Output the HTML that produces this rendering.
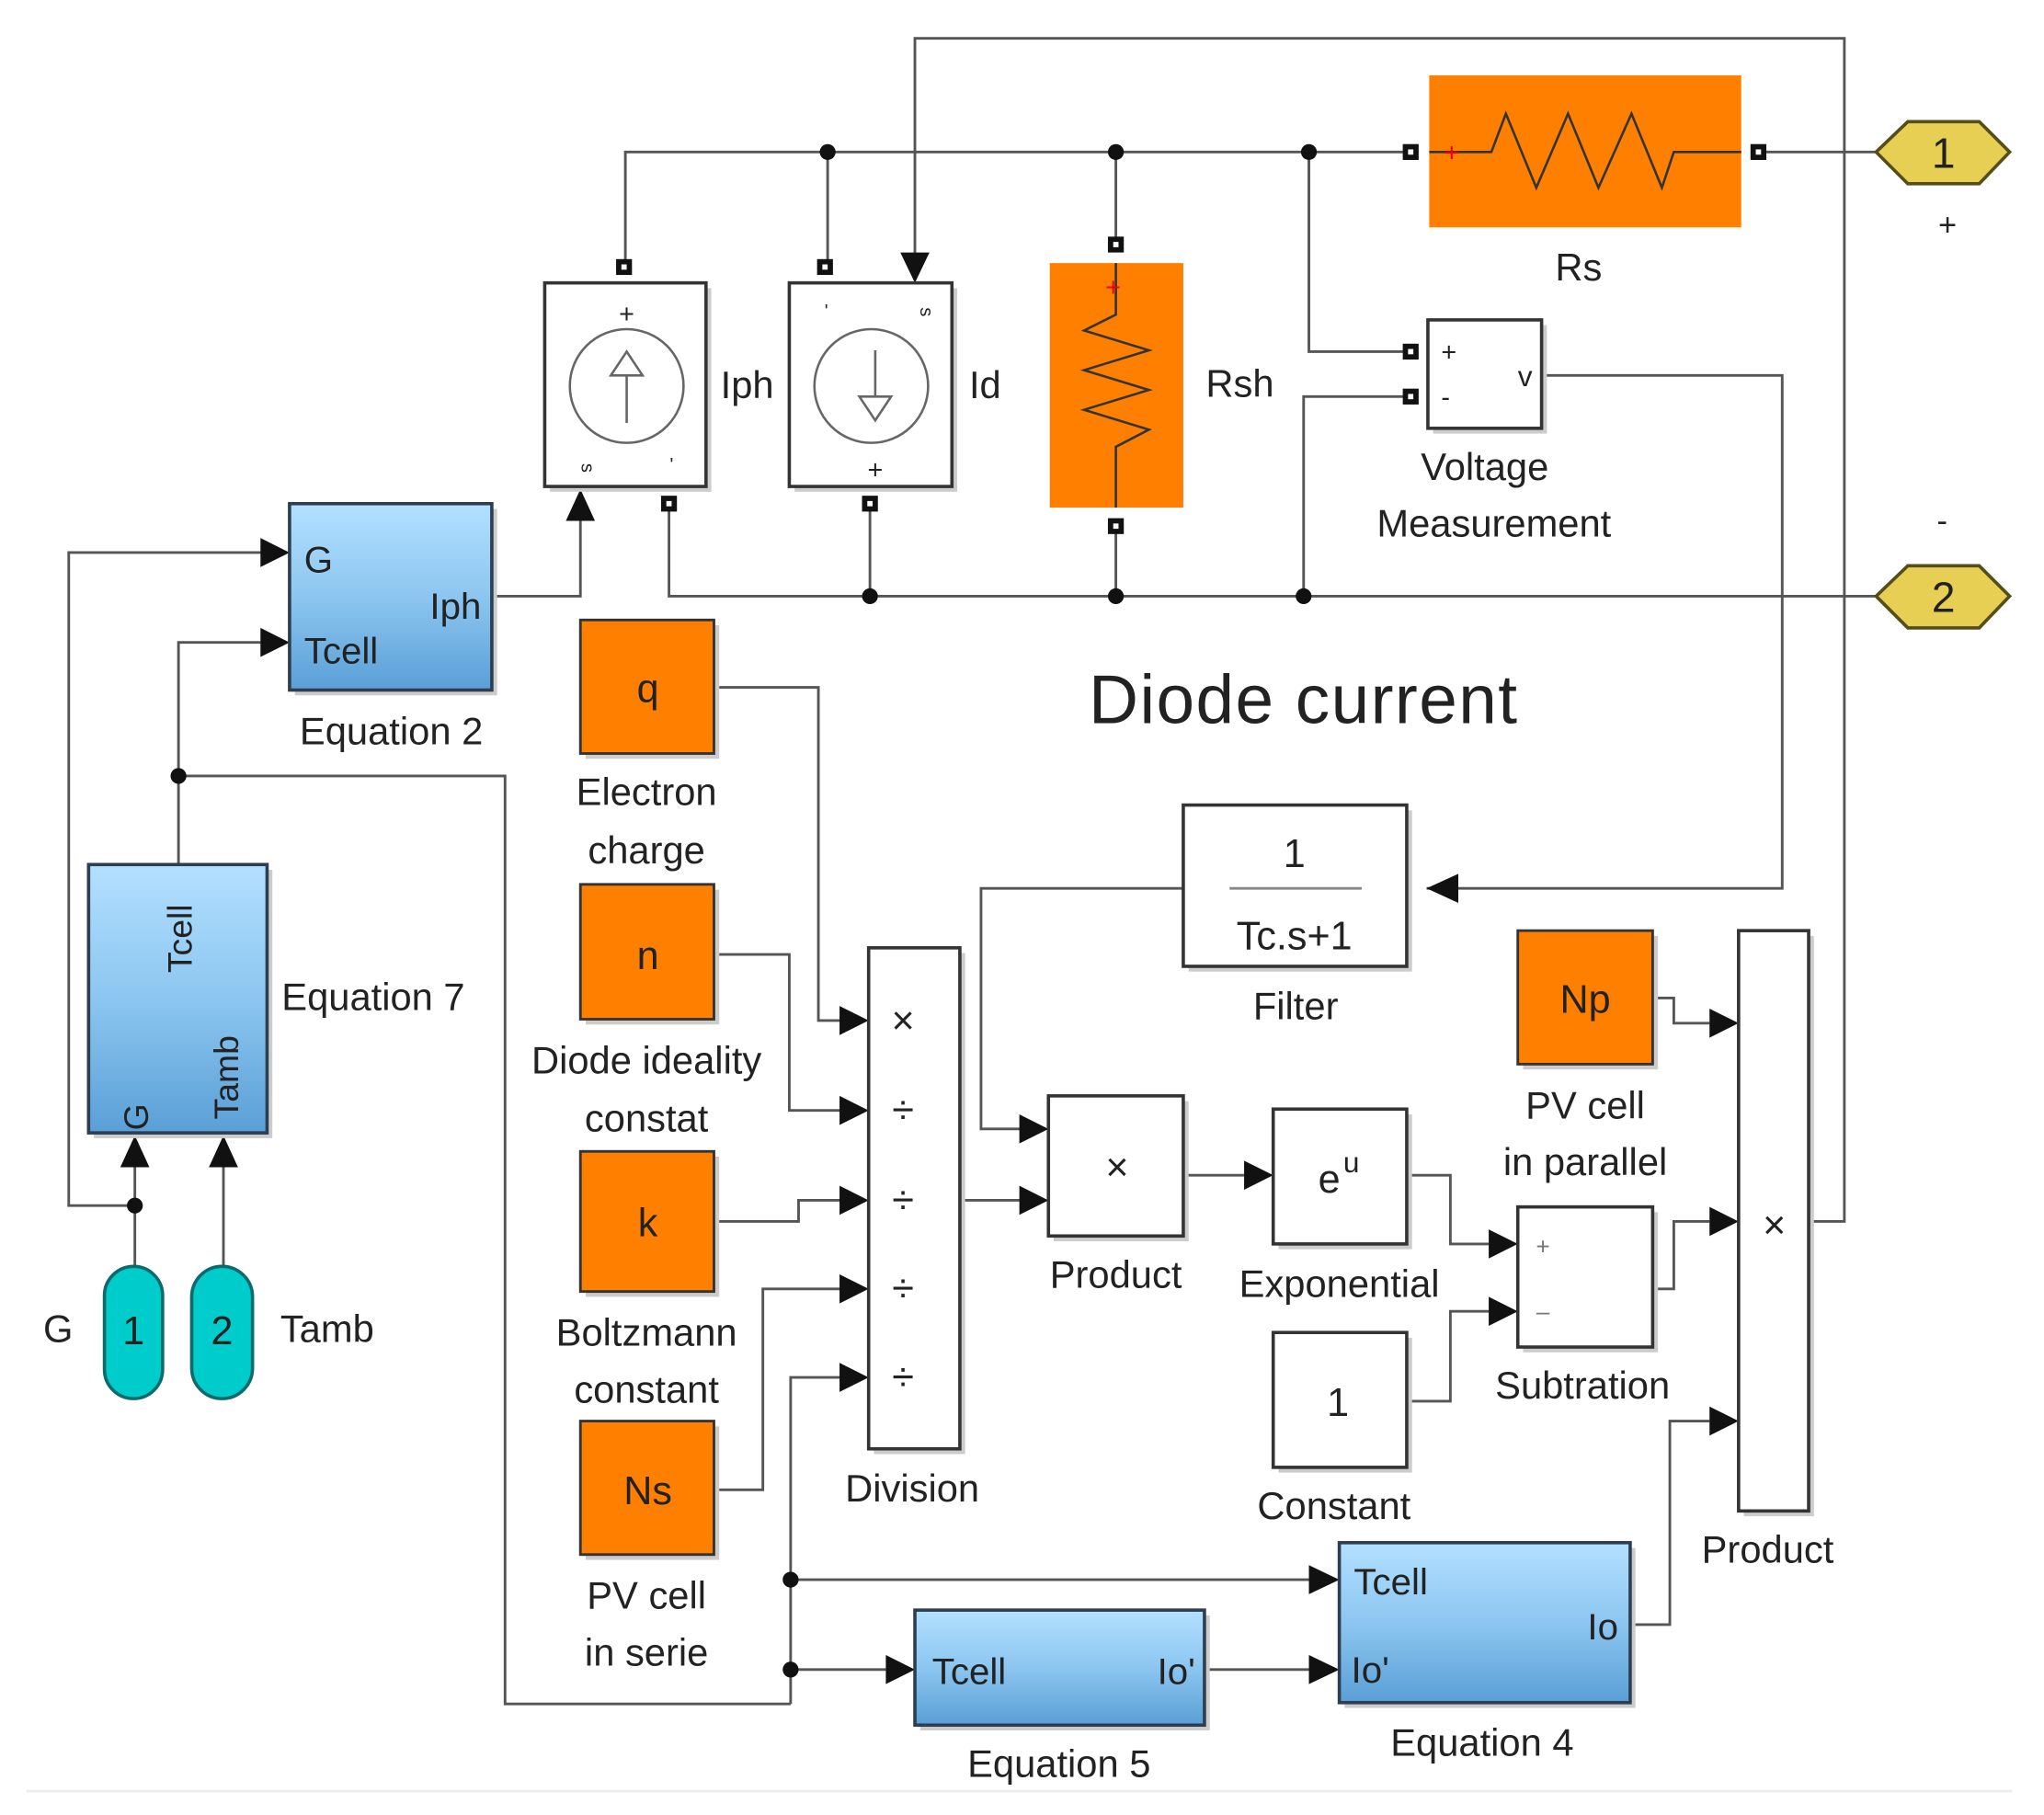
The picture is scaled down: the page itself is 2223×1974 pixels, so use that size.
<!DOCTYPE html>
<html><head><meta charset="utf-8"><style>
html,body{margin:0;padding:0;background:#fff}
svg{display:block}
text{font-family:"Liberation Sans",sans-serif;fill:#222}
</style></head><body>
<svg width="2223" height="1974" viewBox="0 0 1546 1373" preserveAspectRatio="none" xmlns="http://www.w3.org/2000/svg">
<defs>
<linearGradient id="bl" x1="0" y1="0" x2="0" y2="1"><stop offset="0" stop-color="#b3e0ff"/><stop offset="0.5" stop-color="#8cc6f0"/><stop offset="1" stop-color="#5a9fd6"/></linearGradient>
</defs>
<rect width="1546" height="1373" fill="#fff"/>
<line x1="20" y1="1355" x2="1522" y2="1355" stroke="#eee" stroke-width="2"/>

<g fill="none" stroke="#555" stroke-width="2">
<polyline points="692,212 692,29 1395,29 1395,924 1368,924"/>
<polyline points="473,202 473,115 1067,115"/>
<line x1="1330" y1="115" x2="1419" y2="115"/>
<line x1="626" y1="115" x2="626" y2="202"/>
<line x1="844" y1="115" x2="844" y2="185"/>
<polyline points="990,115 990,266 1067,266"/>
<polyline points="506,381 506,451 1419,451"/>
<line x1="658" y1="381" x2="658" y2="451"/>
<line x1="844" y1="398" x2="844" y2="451"/>
<polyline points="1067,300 986,300 986,451"/>
<polyline points="1166,284 1348,284 1348,672 1079,672"/>
<polyline points="372,451 439,451 439,392"/>
<polyline points="102,912 52,912 52,418 200,418"/>
<polyline points="135,654 135,486 200,486"/>
<polyline points="135,587 382,587 382,1289 598,1289"/>
<line x1="102" y1="958" x2="102" y2="880"/>
<line x1="169" y1="958" x2="169" y2="880"/>
<polyline points="540,520 619,520 619,772 636,772"/>
<polyline points="540,722 597,722 597,840 636,840"/>
<polyline points="540,924 604,924 604,908 636,908"/>
<polyline points="540,1127 577,1127 577,975 636,975"/>
<polyline points="636,1042 598,1042 598,1289"/>
<polyline points="598,1195 990,1195"/>
<polyline points="598,1263 670,1263"/>
<line x1="726" y1="908" x2="772" y2="908"/>
<polyline points="895,672 742,672 742,854 772,854"/>
<line x1="895" y1="889" x2="941" y2="889"/>
<polyline points="1064,889 1097,889 1097,941 1126,941"/>
<polyline points="1064,1060 1097,1060 1097,992 1126,992"/>
<polyline points="1250,975 1266,975 1266,924 1293,924"/>
<polyline points="1250,755 1266,755 1266,774 1293,774"/>
<polyline points="1233,1229 1263,1229 1263,1075 1293,1075"/>
<line x1="911" y1="1263" x2="990" y2="1263"/>
</g>

<g fill="#111">
<circle cx="626" cy="115" r="6"/><circle cx="844" cy="115" r="6"/><circle cx="990" cy="115" r="6"/>
<circle cx="658" cy="451" r="6"/><circle cx="844" cy="451" r="6"/><circle cx="986" cy="451" r="6"/>
<circle cx="135" cy="587" r="6"/><circle cx="102" cy="912" r="6"/>
<circle cx="598" cy="1195" r="6"/><circle cx="598" cy="1263" r="6"/>
</g>

<g fill="#111">
<polygon points="681,191 703,191 692,214"/>
<polygon points="428,394 450,394 439,370"/>
<polygon points="197,407 219,418 197,429"/><polygon points="197,475 219,486 197,497"/>
<polygon points="91,883 113,883 102,859"/><polygon points="158,883 180,883 169,859"/>
<polygon points="635,761 657,772 635,783"/><polygon points="635,829 657,840 635,851"/>
<polygon points="635,897 657,908 635,919"/><polygon points="635,964 657,975 635,986"/>
<polygon points="635,1031 657,1042 635,1053"/>
<polygon points="1103,661 1079,672 1103,683"/>
<polygon points="771,843 793,854 771,865"/><polygon points="771,897 793,908 771,919"/>
<polygon points="941,878 963,889 941,900"/>
<polygon points="1126,930 1148,941 1126,952"/><polygon points="1126,981 1148,992 1126,1003"/>
<polygon points="1293,763 1315,774 1293,785"/><polygon points="1293,913 1315,924 1293,935"/>
<polygon points="1293,1064 1315,1075 1293,1086"/>
<polygon points="990,1184 1013,1195 990,1206"/><polygon points="990,1252 1013,1263 990,1274"/>
<polygon points="670,1252 692,1263 670,1274"/>
</g>

<g fill="#111">
<rect x="466" y="196" width="12" height="12"/><rect x="618" y="196" width="12" height="12"/>
<rect x="500" y="375" width="12" height="12"/><rect x="652" y="375" width="12" height="12"/>
<rect x="838" y="179" width="12" height="12"/><rect x="838" y="392" width="12" height="12"/>
<rect x="1061" y="109" width="12" height="12"/><rect x="1324" y="109" width="12" height="12"/>
<rect x="1061" y="260" width="12" height="12"/><rect x="1061" y="294" width="12" height="12"/>
</g>
<g fill="#fff">
<rect x="470" y="200" width="4" height="4"/><rect x="622" y="200" width="4" height="4"/>
<rect x="504" y="379" width="4" height="4"/><rect x="656" y="379" width="4" height="4"/>
<rect x="842" y="183" width="4" height="4"/><rect x="842" y="396" width="4" height="4"/>
<rect x="1065" y="113" width="4" height="4"/><rect x="1328" y="113" width="4" height="4"/>
<rect x="1065" y="264" width="4" height="4"/><rect x="1065" y="298" width="4" height="4"/>
</g>

<g fill="#ccc">
<rect x="416" y="218" width="122" height="154"/><rect x="601" y="218" width="123" height="154"/>
<rect x="1084" y="246" width="86" height="82"/><rect x="223" y="385" width="153" height="141"/>
<rect x="71" y="658" width="135" height="203"/><rect x="899" y="613" width="169" height="122"/>
<rect x="661" y="721" width="69" height="379"/><rect x="797" y="833" width="102" height="106"/>
<rect x="967" y="843" width="101" height="102"/><rect x="967" y="1012" width="101" height="102"/>
<rect x="1152" y="917" width="102" height="106"/><rect x="1319" y="708" width="53" height="439"/>
<rect x="696" y="1222" width="219" height="87"/><rect x="1017" y="1171" width="220" height="121"/>
<rect x="443" y="473" width="101" height="101"/><rect x="443" y="673" width="101" height="102"/>
<rect x="443" y="875" width="101" height="106"/><rect x="443" y="1079" width="101" height="101"/>
<rect x="1152" y="708" width="102" height="101"/>
</g>

<g fill="#fff" stroke="#333" stroke-width="2.5">
<rect x="412" y="214" width="122" height="154"/>
<rect x="597" y="214" width="123" height="154"/>
<rect x="1080" y="242" width="86" height="82"/>
<rect x="895" y="609" width="169" height="122"/>
<rect x="657" y="717" width="69" height="379"/>
<rect x="793" y="829" width="102" height="106"/>
<rect x="963" y="839" width="101" height="102"/>
<rect x="963" y="1008" width="101" height="102"/>
<rect x="1148" y="913" width="102" height="106"/>
<rect x="1315" y="704" width="53" height="439"/>
</g>
<g fill="url(#bl)" stroke="#2c3e50" stroke-width="2.5">
<rect x="219" y="381" width="153" height="141"/>
<rect x="67" y="654" width="135" height="203"/>
<rect x="692" y="1218" width="219" height="87"/>
<rect x="1013" y="1167" width="220" height="121"/>
</g>
<g fill="#ff8000" stroke="#333" stroke-width="2">
<rect x="439" y="469" width="101" height="101"/>
<rect x="439" y="669" width="101" height="102"/>
<rect x="439" y="871" width="101" height="106"/>
<rect x="439" y="1075" width="101" height="101"/>
<rect x="1148" y="704" width="102" height="101"/>
</g>
<rect x="1081" y="57" width="236" height="115" fill="#ff8000"/>
<rect x="794" y="199" width="101" height="185" fill="#ff8000"/>

<polyline points="1081,115 1128,115 1139,86 1162,142 1186,86 1209,142 1234,86 1257,142 1266,115 1317,115" fill="none" stroke="#333" stroke-width="1.8"/>
<polyline points="844,199 844,238 820,250 869,265 820,280 869,295 820,310 869,325 844,338 844,384" fill="none" stroke="#333" stroke-width="1.8"/>
<text x="1098" y="122" font-size="20" style="fill:#e00" text-anchor="middle">+</text>
<text x="842" y="224" font-size="20" style="fill:#e00" text-anchor="middle">+</text>

<circle cx="474" cy="292" r="43" fill="none" stroke="#666" stroke-width="1.8"/>
<circle cx="659" cy="292" r="43" fill="none" stroke="#666" stroke-width="1.8"/>
<polyline points="474,320 474,282" stroke="#666" stroke-width="1.8"/>
<polygon points="462,284 474,266 486,284" fill="#fff" stroke="#666" stroke-width="1.8"/>
<line x1="662" y1="265" x2="662" y2="302" stroke="#666" stroke-width="1.8"/>
<polygon points="650,300 674,300 662,318" fill="#fff" stroke="#666" stroke-width="1.8"/>
<text x="474" y="244" font-size="20" text-anchor="middle">+</text>
<text x="662" y="362" font-size="20" text-anchor="middle">+</text>
<text x="440" y="354" font-size="14" transform="rotate(90 440 354)" text-anchor="middle">s</text>
<text x="696" y="236" font-size="14" transform="rotate(90 696 236)" text-anchor="middle">s</text>
<text x="508" y="356" font-size="14" text-anchor="middle">'</text>
<text x="625" y="240" font-size="14" text-anchor="middle">'</text>

<polygon points="1419,115 1443,92 1497,92 1520,115 1497,139 1443,139" fill="#e6cf52" stroke="#554d1a" stroke-width="2.5"/>
<polygon points="1419,451 1443,428 1497,428 1520,451 1497,475 1443,475" fill="#e6cf52" stroke="#554d1a" stroke-width="2.5"/>
<text x="1470" y="127" font-size="32" text-anchor="middle">1</text>
<text x="1470" y="463" font-size="32" text-anchor="middle">2</text>
<text x="1473" y="178" font-size="24" text-anchor="middle">+</text>
<text x="1469" y="402" font-size="24" text-anchor="middle">-</text>

<rect x="79" y="958" width="44" height="100" rx="22" fill="#00cccc" stroke="#0b6b6b" stroke-width="2.5"/>
<rect x="145" y="958" width="46" height="100" rx="23" fill="#00cccc" stroke="#0b6b6b" stroke-width="2.5"/>
<text x="101" y="1017" font-size="30" text-anchor="middle">1</text>
<text x="168" y="1017" font-size="30" text-anchor="middle">2</text>

<g font-size="28">
<text x="230" y="433">G</text>
<text x="364" y="468" text-anchor="end">Iph</text>
<text x="230" y="502">Tcell</text>
<text x="705" y="1274">Tcell</text>
<text x="904" y="1274" text-anchor="end">Io'</text>
<text x="1024" y="1206">Tcell</text>
<text x="1224" y="1240" text-anchor="end">Io</text>
<text x="1022" y="1273">Io'</text>
</g>
<g font-size="26">
<text transform="translate(145,710) rotate(-90)" text-anchor="middle">Tcell</text>
<text transform="translate(112,845) rotate(-90)" text-anchor="middle">G</text>
<text transform="translate(180,815) rotate(-90)" text-anchor="middle">Tamb</text>
</g>
<g font-size="30" text-anchor="middle">
<text x="490" y="531">q</text>
<text x="490" y="733">n</text>
<text x="490" y="935">k</text>
<text x="490" y="1138">Ns</text>
<text x="1199" y="766">Np</text>
<text x="1012" y="1071">1</text>
<text x="979" y="656">1</text>
<text x="979" y="718">Tc.s+1</text>
</g>
<line x1="930" y1="672" x2="1030" y2="672" stroke="#888" stroke-width="2"/>
<text x="997" y="902" font-size="30">e</text><text x="1016" y="887" font-size="22">u</text>
<g font-size="30" style="fill:#888" text-anchor="middle">
<text x="845" y="893">×</text><text x="1342" y="937">×</text><text x="683" y="782">×</text>
<text x="683" y="850">÷</text><text x="683" y="918">÷</text><text x="683" y="985">÷</text><text x="683" y="1052">÷</text>
</g>
<text x="1167" y="949" font-size="18" text-anchor="middle" style="fill:#777">+</text>
<text x="1167" y="998" font-size="18" text-anchor="middle" style="fill:#777">–</text>
<text x="1090" y="273" font-size="20">+</text>
<text x="1090" y="307" font-size="20">-</text>
<text x="1148" y="292" font-size="22">v</text>

<g font-size="29">
<text x="545" y="301">Iph</text>
<text x="733" y="301">Id</text>
<text x="912" y="300">Rsh</text>
<text x="1194" y="212" text-anchor="middle">Rs</text>
<text x="1123" y="363" text-anchor="middle">Voltage</text>
<text x="1130" y="406" text-anchor="middle">Measurement</text>
<text x="296" y="563" text-anchor="middle">Equation 2</text>
<text x="213" y="764">Equation 7</text>
<text x="44" y="1015" text-anchor="middle">G</text>
<text x="212" y="1015">Tamb</text>
<text x="489" y="609" text-anchor="middle">Electron</text>
<text x="489" y="653" text-anchor="middle">charge</text>
<text x="489" y="812" text-anchor="middle">Diode ideality</text>
<text x="489" y="856" text-anchor="middle">constat</text>
<text x="489" y="1018" text-anchor="middle">Boltzmann</text>
<text x="489" y="1061" text-anchor="middle">constant</text>
<text x="489" y="1217" text-anchor="middle">PV cell</text>
<text x="489" y="1260" text-anchor="middle">in serie</text>
<text x="690" y="1136" text-anchor="middle">Division</text>
<text x="980" y="771" text-anchor="middle">Filter</text>
<text x="844" y="974" text-anchor="middle">Product</text>
<text x="1013" y="981" text-anchor="middle">Exponential</text>
<text x="1199" y="846" text-anchor="middle">PV cell</text>
<text x="1199" y="889" text-anchor="middle">in parallel</text>
<text x="1197" y="1058" text-anchor="middle">Subtration</text>
<text x="1009" y="1149" text-anchor="middle">Constant</text>
<text x="1337" y="1182" text-anchor="middle">Product</text>
<text x="1121" y="1328" text-anchor="middle">Equation 4</text>
<text x="801" y="1344" text-anchor="middle">Equation 5</text>
</g>
<text x="986" y="547" font-size="52" text-anchor="middle" letter-spacing="1">Diode current</text>
</svg>
</body></html>
